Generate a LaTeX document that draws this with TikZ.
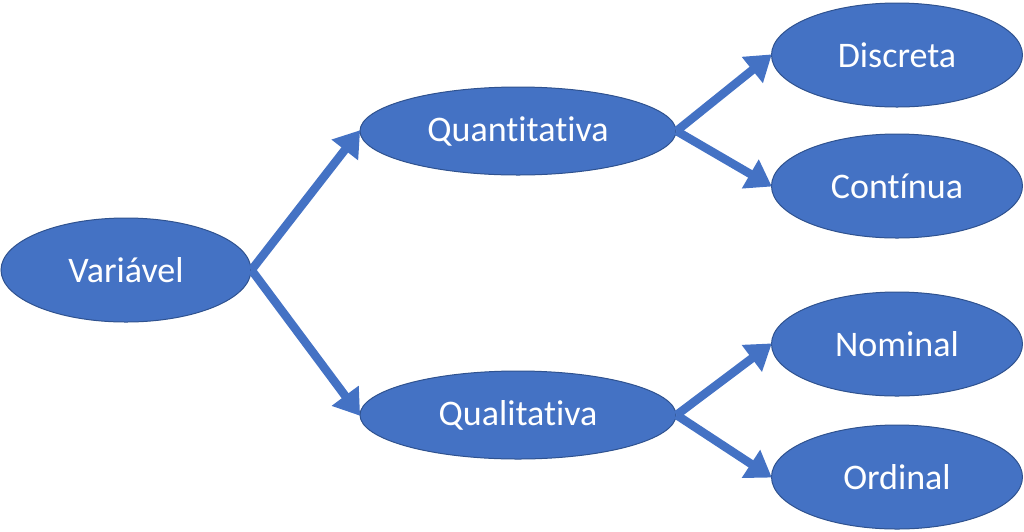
\documentclass[tikz,border=0pt]{standalone}
\usepackage{fontspec}
\setmainfont[Ligatures=NoCommon]{Carlito}
\usetikzlibrary{shapes.geometric,arrows.meta}
\begin{document}
\begin{tikzpicture}[x=1pt,y=-1pt,
  oval/.style={ellipse, fill=ovalblue, draw=ovalline, line width=1pt, inner sep=0pt,
    text=white, font=\fontsize{36}{42}\selectfont},
  link/.style={draw=ovalblue, line width=8.5pt, -{Triangle[length=25pt,width=32pt]}, shorten >=-1pt}]
\definecolor{ovalblue}{HTML}{4472C4}
\definecolor{ovalline}{HTML}{2F528F}
\useasboundingbox (0,0) rectangle (1024,531);
\node[oval, minimum width=250pt, minimum height=104pt] (var) at (126,270) {Variável};
\node[oval, minimum width=316pt, minimum height=88pt] (quant) at (518,131) {Quantitativa};
\node[oval, minimum width=316pt, minimum height=88pt] (qual) at (518,415) {Qualitativa};
\node[oval, minimum width=251pt, minimum height=104pt] (disc) at (897,55) {Discreta};
\node[oval, minimum width=251pt, minimum height=104pt] (cont) at (897,186) {Contínua};
\node[oval, minimum width=251pt, minimum height=104pt] (nom) at (897,344) {Nominal};
\node[oval, minimum width=251pt, minimum height=104pt] (ord) at (897,477) {Ordinal};
\draw[link] (var.east) -- (quant.west);
\draw[link] (var.east) -- (qual.west);
\draw[link] (quant.east) -- (disc.west);
\draw[link] (quant.east) -- (cont.west);
\draw[link] (qual.east) -- (nom.west);
\draw[link] (qual.east) -- (ord.west);
\end{tikzpicture}
\end{document}
